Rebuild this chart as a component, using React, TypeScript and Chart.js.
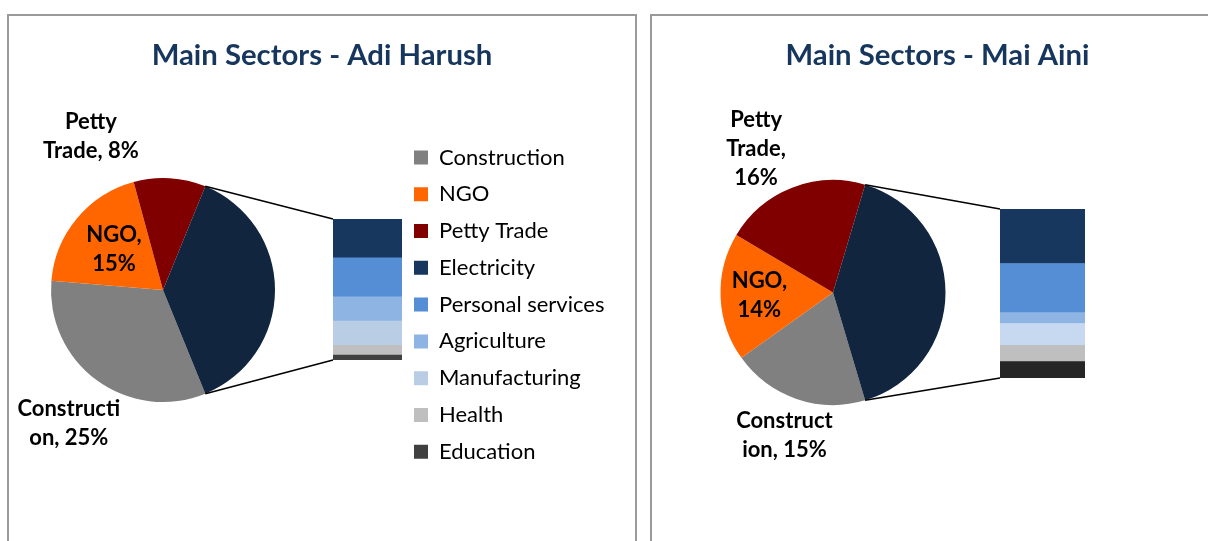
import React, { useEffect, useRef } from 'react';
import { Chart, registerables } from 'chart.js';

Chart.register(...registerables);
Chart.defaults.font.family = 'Lato';

// ---------------- data ----------------
const pieCategories = ['Construction', 'NGO', 'Petty Trade'];
const barCategories = ['Electricity', 'Personal services', 'Agriculture', 'Manufacturing', 'Health', 'Education'];

const adiHarushTitle = 'Main Sectors - Adi Harush';
const adiHarushPieValues = [25, 15, 8];
const adiHarushBarValues = [8, 8, 5, 5, 2, 1];

const maiAiniTitle = 'Main Sectors - Mai Aini';
const maiAiniPieValues = [15, 14, 16];
const maiAiniBarValues = [10, 9, 2, 4, 3, 3];

// character positions where each data label wraps (Construction, NGO, Petty Trade)
const adiHarushLabelBreaks = [[10], [4], [5]];
const maiAiniLabelBreaks = [[9], [4], [5, 12]];

// ---------------- styles ----------------
const pieColors = ['#808080', '#FF6600', '#800000'];
const otherSliceColor = '#11253E';
const adiHarushBarColors = ['#17375E', '#558ED5', '#8EB4E3', '#B9CDE5', '#BFBFBF', '#404040'];
const maiAiniBarColors = ['#17375E', '#558ED5', '#8EB4E3', '#C6D9F1', '#BFBFBF', '#262626'];
const titleColor = '#17365D';

type LabelSpec = { radius: number; dx: number; dy: number };
type PanelSpec = {
  left: number;
  width: number;
  height: number;
  title: string;
  pieValues: number[];
  barValues: number[];
  barColors: string[];
  breaks: number[][];
  pie: { cx: number; cy: number; r: number };
  bar: { left: number; right: number; top: number; bottom: number };
  legend: boolean;
  legendBoxLeft: number;
  labels: LabelSpec[];
};

const adiSpec: PanelSpec = {
  left: 7,
  width: 626,
  height: 580,
  title: adiHarushTitle,
  pieValues: adiHarushPieValues,
  barValues: adiHarushBarValues,
  barColors: adiHarushBarColors,
  breaks: adiHarushLabelBreaks,
  pie: { cx: 154, cy: 274, r: 112 },
  bar: { left: 324, right: 394, top: 203, bottom: 344 },
  legend: true,
  legendBoxLeft: 405,
  labels: [
    { radius: 1, dx: -28, dy: 43 },
    { radius: 0.57, dx: 0, dy: 0 },
    { radius: 1, dx: -79, dy: -42 },
  ],
};

const maiSpec: PanelSpec = {
  left: 650,
  width: 571,
  height: 580,
  title: maiAiniTitle,
  pieValues: maiAiniPieValues,
  barValues: maiAiniBarValues,
  barColors: maiAiniBarColors,
  breaks: maiAiniLabelBreaks,
  pie: { cx: 181, cy: 276.5, r: 112.5 },
  bar: { left: 348, right: 433, top: 193, bottom: 362 },
  legend: false,
  legendBoxLeft: 0,
  labels: [
    { radius: 1, dx: -12, dy: 37 },
    { radius: 0.655, dx: 0, dy: 0 },
    { radius: 1, dx: -36, dy: -39 },
  ],
};

function splitAt(text: string, breaks: number[]): string[] {
  const out: string[] = [];
  let prev = 0;
  for (const b of breaks) {
    out.push(text.slice(prev, b).trim());
    prev = b;
  }
  out.push(text.slice(prev).trim());
  return out;
}

function SectorPanel({ spec }: { spec: PanelSpec }) {
  const pieRef = useRef<HTMLCanvasElement>(null);
  const barRef = useRef<HTMLCanvasElement>(null);

  useEffect(() => {
    const W = spec.width;
    const H = spec.height;
    const otherSum = spec.barValues.reduce((a, b) => a + b, 0);
    const pieSum = spec.pieValues.reduce((a, b) => a + b, 0);
    const total = pieSum + otherSum;

    const labelPlugin = {
      id: 'pieLabels',
      afterDatasetsDraw(chart: any) {
        const ctx = chart.ctx;
        const meta = chart.getDatasetMeta(0);
        ctx.save();
        ctx.font = 'bold 22px Lato';
        ctx.fillStyle = '#000';
        ctx.textAlign = 'center';
        ctx.textBaseline = 'middle';
        pieCategories.forEach((name, i) => {
          const arc = meta.data[i];
          const p = arc.getProps(['x', 'y', 'startAngle', 'endAngle', 'outerRadius'], true);
          const mid = (p.startAngle + p.endAngle) / 2;
          const ls = spec.labels[i];
          const rr = p.outerRadius * ls.radius;
          const cx = p.x + Math.cos(mid) * rr + ls.dx;
          const cy = p.y + Math.sin(mid) * rr + ls.dy;
          const lines = splitAt(`${name}, ${spec.pieValues[i]}%`, spec.breaks[i]);
          const lh = 29;
          lines.forEach((ln, k) => {
            ctx.fillText(ln, cx, cy + (k - (lines.length - 1) / 2) * lh);
          });
        });
        ctx.restore();
      },
    };

    const pie = new Chart(pieRef.current as HTMLCanvasElement, {
      type: 'pie',
      data: {
        labels: [...pieCategories, 'Other'],
        datasets: [
          {
            data: [...spec.pieValues, otherSum],
            backgroundColor: [...pieColors, otherSliceColor],
            borderWidth: 0,
          },
        ],
      },
      options: {
        responsive: false,
        animation: false,
        events: [],
        rotation: 90 + (otherSum / total) * 180,
        layout: {
          padding: {
            left: spec.pie.cx - spec.pie.r,
            right: W - (spec.pie.cx + spec.pie.r),
            top: spec.pie.cy - spec.pie.r,
            bottom: H - (spec.pie.cy + spec.pie.r),
          },
        },
        plugins: {
          legend: { display: false },
          tooltip: { enabled: false },
          title: { display: false },
        },
      },
      plugins: [labelPlugin],
    } as any);

    const lay = { yWidth: spec.bar.left, y2Width: W - spec.bar.right };

    const connectorPlugin = {
      id: 'connector',
      afterDatasetsDraw(chart: any) {
        const ctx = chart.ctx;
        const arc: any = pie.getDatasetMeta(0).data[spec.pieValues.length];
        if (!arc) return;
        const p = arc.getProps(['x', 'y', 'startAngle', 'endAngle', 'outerRadius'], true);
        const n = chart.data.datasets.length;
        const topEl: any = chart.getDatasetMeta(n - 1).data[0];
        const botEl: any = chart.getDatasetMeta(0).data[0];
        const tp = topEl.getProps(['x', 'y', 'width'], true);
        const bp = botEl.getProps(['x', 'base', 'width'], true);
        ctx.save();
        ctx.strokeStyle = '#000';
        ctx.lineWidth = 1.5;
        ctx.beginPath();
        ctx.moveTo(p.x + p.outerRadius * Math.cos(p.startAngle), p.y + p.outerRadius * Math.sin(p.startAngle));
        ctx.lineTo(tp.x - tp.width / 2, tp.y);
        ctx.moveTo(p.x + p.outerRadius * Math.cos(p.endAngle), p.y + p.outerRadius * Math.sin(p.endAngle));
        ctx.lineTo(bp.x - bp.width / 2, bp.base);
        ctx.stroke();
        ctx.restore();
      },
    };

    const legendColors = [...pieColors, ...spec.barColors];
    const legendNames = [...pieCategories, ...barCategories];

    const scales: any = {
      x: {
        stacked: true,
        grid: { display: false },
        border: { display: false },
        ticks: { display: false },
        afterFit: (s: any) => {
          s.height = H - spec.bar.bottom;
        },
      },
      y: {
        stacked: true,
        min: 0,
        max: otherSum,
        grid: { display: false },
        border: { display: false },
        ticks: { display: false },
        afterFit: (s: any) => {
          s.width = lay.yWidth;
        },
      },
    };
    if (!spec.legend) {
      scales.y2 = {
        position: 'right',
        grid: { display: false },
        border: { display: false },
        ticks: { display: false },
        afterFit: (s: any) => {
          s.width = lay.y2Width;
        },
      };
    }

    const bar = new Chart(barRef.current as HTMLCanvasElement, {
      type: 'bar',
      data: {
        labels: [''],
        datasets: barCategories
          .map((c, i) => ({
            label: c,
            data: [spec.barValues[i]],
            backgroundColor: spec.barColors[i],
            borderWidth: 0,
            barPercentage: 1,
            categoryPercentage: 1,
          }))
          .reverse(),
      },
      options: {
        responsive: false,
        animation: false,
        events: [],
        layout: { padding: { left: 0, right: 0, top: 0, bottom: 0 } },
        scales,
        plugins: {
          tooltip: { enabled: false },
          title: {
            display: true,
            text: spec.title,
            color: titleColor,
            font: { family: 'Lato', size: 29.3, weight: 'bold', lineHeight: 1.2 },
            padding: { top: 22.4, bottom: spec.bar.top - 57.6 },
          },
          legend: {
            display: spec.legend,
            position: 'right',
            maxWidth: 2000,
            labels: {
              boxWidth: 14,
              boxHeight: 14,
              padding: 12,
              color: '#000',
              font: { family: 'Lato', size: 22, lineHeight: 1.127 },
              generateLabels: () =>
                legendNames.map((nm, i) => ({
                  text: [nm],
                  fillStyle: legendColors[i],
                  strokeStyle: legendColors[i],
                  lineWidth: 0,
                  hidden: false,
                  index: i,
                  fontColor: '#000',
                })),
            },
          },
        },
      },
      plugins: [connectorPlugin],
    } as any);

    if (spec.legend) {
      const hb: any[] = (bar as any).legend?.legendHitBoxes || [];
      const maxItemW = Math.max(...hb.map((h) => h.width));
      const pad = W - 10 - spec.legendBoxLeft - maxItemW;
      lay.yWidth = spec.bar.left - pad;
      (bar.options as any).layout.padding = { left: pad, right: pad, top: 0, bottom: 0 };
      bar.update();
    }

    return () => {
      bar.destroy();
      pie.destroy();
    };
  }, [spec]);

  return (
    <div
      style={{
        position: 'absolute',
        left: spec.left,
        top: 14,
        width: spec.width,
        height: 600,
        border: '2px solid #9a9a9a',
        overflow: 'hidden',
        background: '#fff',
      }}
    >
      <canvas ref={pieRef} width={spec.width} height={spec.height} style={{ position: 'absolute', left: 0, top: 0 }} />
      <canvas ref={barRef} width={spec.width} height={spec.height} style={{ position: 'absolute', left: 0, top: 0 }} />
    </div>
  );
}

export default function App() {
  return (
    <div
      style={{
        position: 'absolute',
        left: 0,
        top: 0,
        width: 1208,
        height: 541,
        overflow: 'hidden',
        background: '#fff',
      }}
    >
      <SectorPanel spec={adiSpec} />
      <SectorPanel spec={maiSpec} />
    </div>
  );
}
